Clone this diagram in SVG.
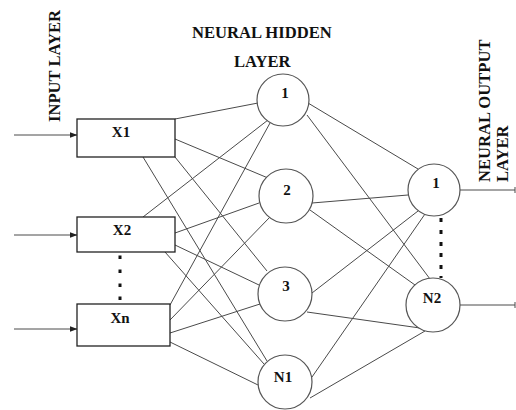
<svg xmlns="http://www.w3.org/2000/svg" width="516" height="410" viewBox="0 0 516 410">
  <style>
    .lbl { font-family: "Liberation Serif", "Times New Roman", serif; font-weight: bold; fill: #111; }
    .title { font-size: 16.6px; }
    .node { font-size: 15px; text-anchor: middle; }
    .box { fill: #fff; stroke: #222; stroke-width: 1.3; }
    .neuron { fill: #fff; stroke: #555; stroke-width: 1.2; }
    .wire { stroke: #4a4a4a; stroke-width: 1; fill: none; }
    .dot { fill: #111; }
  </style>
  <defs>
    <marker id="head" markerWidth="8" markerHeight="6" refX="7.5" refY="3" orient="auto" markerUnits="userSpaceOnUse">
      <path d="M0,0 L8,3 L0,6 Z" fill="#222"/>
    </marker>
  </defs>
  <rect width="516" height="410" fill="#fff"/>

  <!-- layer titles -->
  <text class="lbl title" transform="translate(60,122) rotate(-90)">INPUT LAYER</text>
  <text class="lbl title" x="192" y="38">NEURAL HIDDEN</text>
  <text class="lbl title" x="234" y="67">LAYER</text>
  <text class="lbl title" transform="translate(490,182) rotate(-90)">NEURAL OUTPUT</text>
  <text class="lbl title" transform="translate(508,182) rotate(-90)">LAYER</text>

  <!-- connections -->
  <g id="connectors">
    <!-- inputs -->
    <line class="wire" x1="14" y1="135" x2="77" y2="135" stroke="#222" marker-end="url(#head)"/>
    <line class="wire" x1="14" y1="235" x2="77" y2="235" stroke="#222" marker-end="url(#head)"/>
    <line class="wire" x1="14" y1="329" x2="77" y2="329" stroke="#222" marker-end="url(#head)"/>
    <!-- input to hidden -->
    <line class="wire" x1="175" y1="119" x2="258" y2="103"/>
    <line class="wire" x1="175" y1="139" x2="268" y2="178"/>
    <line class="wire" x1="175" y1="157" x2="267" y2="271"/>
    <line class="wire" x1="143" y1="157" x2="267" y2="361"/>
    <line class="wire" x1="143" y1="217" x2="268" y2="120"/>
    <line class="wire" x1="175" y1="233" x2="259" y2="203"/>
    <line class="wire" x1="175" y1="245" x2="259" y2="285"/>
    <line class="wire" x1="165" y1="252" x2="264" y2="364"/>
    <line class="wire" x1="170" y1="305" x2="270" y2="123"/>
    <line class="wire" x1="170" y1="320" x2="270" y2="217"/>
    <line class="wire" x1="170" y1="333" x2="260" y2="304"/>
    <line class="wire" x1="170" y1="342" x2="258" y2="385"/>
    <!-- hidden to output -->
    <line class="wire" x1="308" y1="103" x2="418" y2="169"/>
    <line class="wire" x1="307" y1="115" x2="430" y2="279"/>
    <line class="wire" x1="312" y1="203" x2="408" y2="195"/>
    <line class="wire" x1="310" y1="210" x2="415" y2="285"/>
    <line class="wire" x1="312" y1="293" x2="418" y2="211"/>
    <line class="wire" x1="307" y1="312" x2="420" y2="328"/>
    <line class="wire" x1="312" y1="377" x2="425" y2="214"/>
    <line class="wire" x1="310" y1="398" x2="425" y2="331"/>
    <!-- outputs -->
    <line class="wire" x1="460" y1="190" x2="515" y2="190" stroke="#222"/>
    <line class="wire" x1="515" y1="187" x2="515" y2="193" stroke="#222" stroke-width="1.5"/>
    <line class="wire" x1="460" y1="305" x2="515" y2="305" stroke="#222"/>
    <line class="wire" x1="515" y1="302" x2="515" y2="308" stroke="#222" stroke-width="1.5"/>
  </g>

  <!-- input nodes -->
  <g id="x1">
    <rect class="box" x="77" y="119" width="98" height="38"/>
    <text class="lbl node" x="121" y="137">X1</text>
  </g>
  <g id="x2">
    <rect class="box" x="77" y="217" width="98" height="35"/>
    <text class="lbl node" x="122" y="235">X2</text>
  </g>
  <g id="xn">
    <rect class="box" x="77" y="304" width="93" height="42"/>
    <text class="lbl node" x="120" y="323">Xn</text>
  </g>
  <g id="input-ellipsis">
    <rect class="dot" x="118.5" y="255.5" width="3" height="3.5"/>
    <rect class="dot" x="118.5" y="269.5" width="3" height="3.5"/>
    <rect class="dot" x="118.5" y="283.5" width="3" height="3.5"/>
    <rect class="dot" x="118.5" y="296.5" width="3" height="3.5"/>
  </g>

  <!-- hidden neurons -->
  <g id="h1">
    <circle class="neuron" cx="283" cy="100" r="26"/>
    <text class="lbl node" x="285" y="98">1</text>
  </g>
  <g id="h2">
    <circle class="neuron" cx="286" cy="196" r="27"/>
    <text class="lbl node" x="287" y="195">2</text>
  </g>
  <g id="h3">
    <circle class="neuron" cx="285" cy="294" r="27"/>
    <text class="lbl node" x="286" y="291">3</text>
  </g>
  <g id="hn1">
    <circle class="neuron" cx="285" cy="382" r="27"/>
    <text class="lbl node" x="283" y="382">N1</text>
  </g>

  <!-- output neurons -->
  <g id="o1">
    <circle class="neuron" cx="434" cy="190" r="26"/>
    <text class="lbl node" x="436" y="188">1</text>
  </g>
  <g id="on2">
    <circle class="neuron" cx="433" cy="305" r="27"/>
    <text class="lbl node" x="432" y="303">N2</text>
  </g>
  <g id="output-ellipsis">
    <rect class="dot" x="439.5" y="218" width="3" height="4"/>
    <rect class="dot" x="439.5" y="230" width="3" height="4"/>
    <rect class="dot" x="439.5" y="242" width="3" height="4"/>
    <rect class="dot" x="439.5" y="253" width="3" height="4"/>
    <rect class="dot" x="439.5" y="265" width="3" height="4"/>
    <rect class="dot" x="439.5" y="276" width="3" height="2"/>
  </g>
</svg>
